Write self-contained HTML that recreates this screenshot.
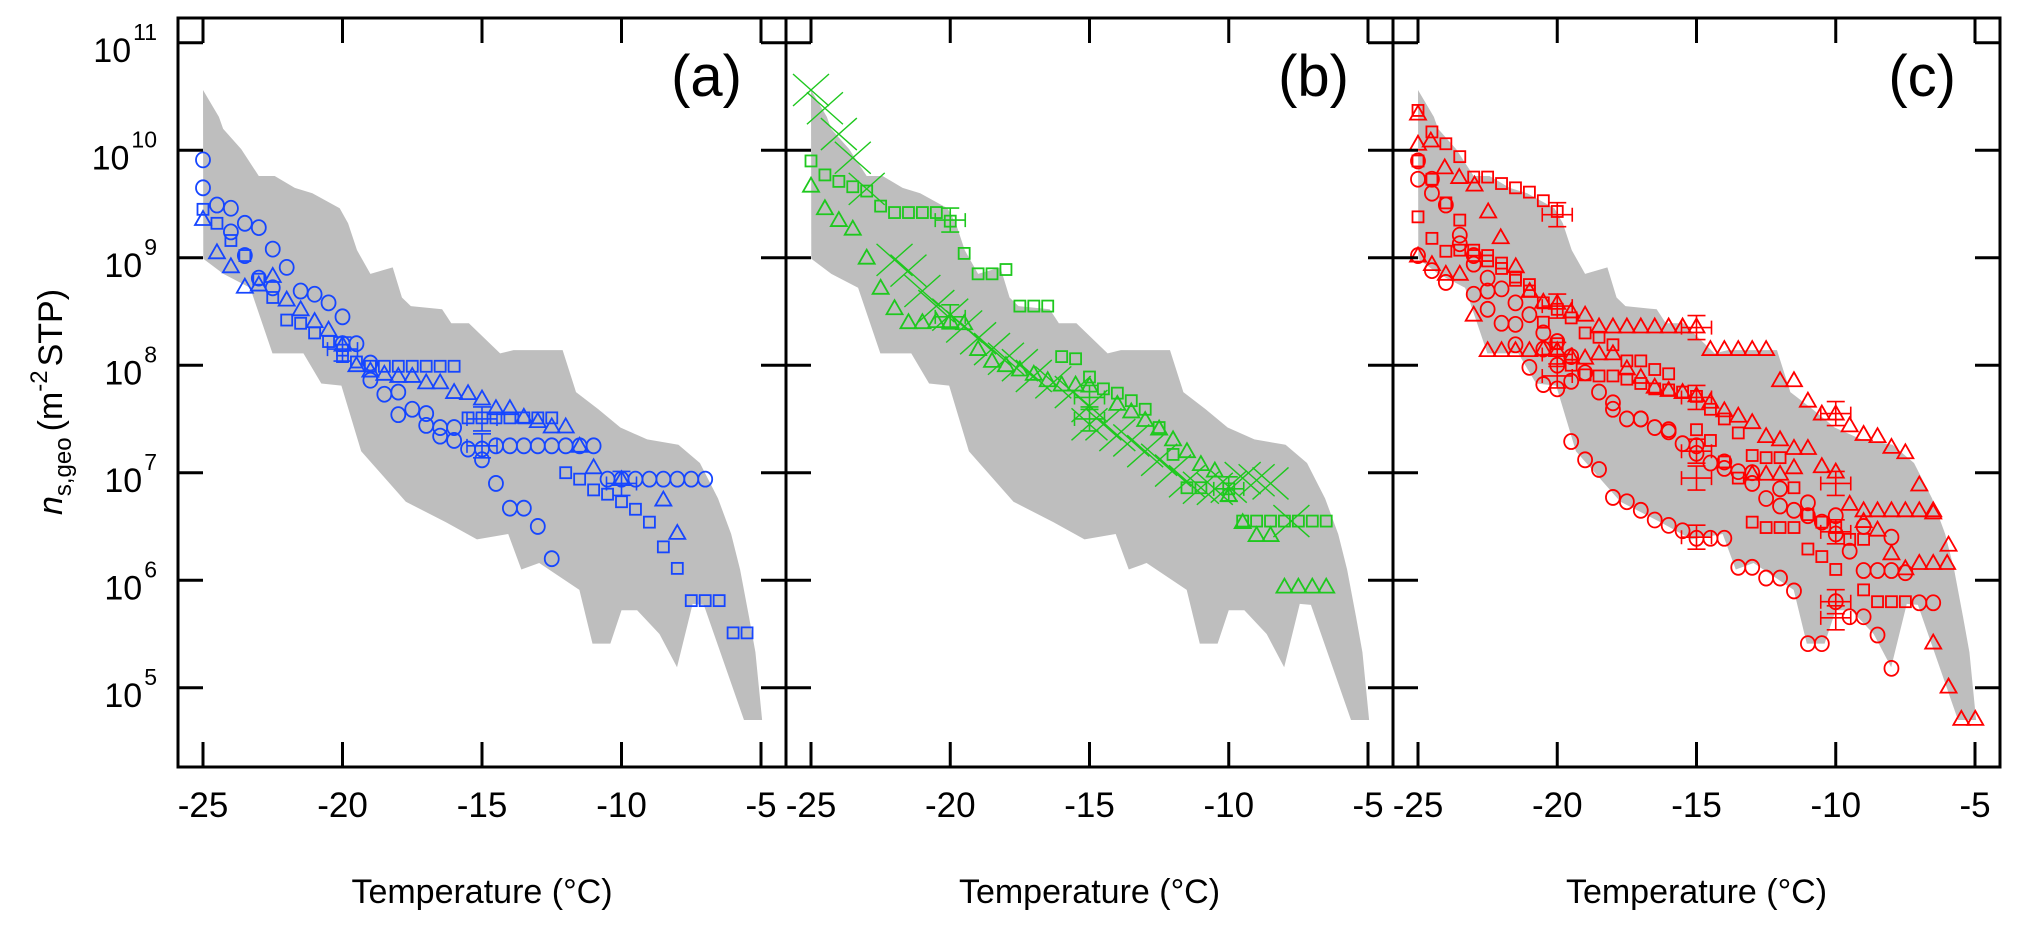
<!DOCTYPE html>
<html><head><meta charset="utf-8"><style>
html,body{margin:0;padding:0;background:#fff;}
svg{display:block;font-family:"Liberation Sans",Arial,sans-serif;}
</style></head><body>
<svg id="chart" width="2018" height="928" viewBox="0 0 2018 928" xmlns="http://www.w3.org/2000/svg"></svg>
<script>
// ---------- data ----------
const xTicks = [-25, -20, -15, -10, -5];
const xTickLabels = ["-25", "-20", "-15", "-10", "-5"];
const yTickExps = [5, 6, 7, 8, 9, 10, 11];
const panelLabels = ["(a)", "(b)", "(c)"];
// gray band [T, log10 n]
const bandUpper = [[-25,10.56],[-24.43,10.31],[-24.28,10.2],[-23.63,10.01],[-23,9.76],[-22.43,9.76],[-21.71,9.65],[-21.08,9.6],[-20.1,9.46],[-19.8,9.32],[-19.48,9.07],[-19,8.85],[-18.2,8.91],[-17.87,8.63],[-17.55,8.55],[-16.43,8.52],[-16.1,8.39],[-15.47,8.39],[-14.35,8.11],[-13.87,8.14],[-12.11,8.14],[-11.63,7.75],[-10.83,7.59],[-10.04,7.42],[-9.08,7.31],[-7.96,7.26],[-7.19,7.09],[-6.54,6.76],[-6.07,6.43],[-5.75,6.1],[-5.43,5.66],[-5.2,5.33],[-4.96,4.7]];
const bandLower = [[-24.99,8.99],[-24.27,8.85],[-23.31,8.72],[-22.51,8.11],[-21.4,8.11],[-20.76,7.83],[-20.04,7.81],[-19.33,7.2],[-17.73,6.73],[-16.3,6.54],[-15.18,6.38],[-14.06,6.43],[-13.59,6.1],[-12.95,6.16],[-11.51,5.91],[-11.04,5.41],[-10.4,5.41],[-10,5.72],[-9.44,5.72],[-8.64,5.5],[-8.01,5.19],[-7.45,5.78],[-7.05,5.77],[-5.61,4.7]];
// panel (a) blue
const aCircles = [[-25,9.91],[-25,9.65],[-24.5,9.49],[-24,9.46],[-24,9.24],[-23.5,9.32],[-23,9.28],[-23.5,9.02],[-23,8.81],[-22.5,9.08],[-22,8.91],[-22.5,8.72],[-21.5,8.69],[-21,8.66],[-20.5,8.58],[-20,8.45],[-20,8.2],[-19.5,8.2],[-19,8.02],[-19,7.86],[-18.5,7.73],[-18,7.75],[-18,7.54],[-17.5,7.59],[-17,7.55],[-17,7.44],[-16.5,7.42],[-16,7.42],[-16.5,7.34],[-16,7.3],[-15.5,7.22],[-15,7.22],[-15,7.12],[-14.5,7.25],[-14,7.25],[-13.5,7.25],[-13,7.25],[-12.5,7.25],[-12,7.25],[-11.5,7.25],[-11,7.25],[-14.5,6.9],[-14,6.67],[-13.5,6.67],[-13,6.5],[-12.5,6.2],[-10.5,6.94],[-10,6.94],[-9.5,6.94],[-9,6.94],[-8.5,6.94],[-8,6.94],[-7.5,6.94],[-7,6.94]];
const aSquares = [[-25,9.45],[-24.5,9.32],[-24,9.16],[-23.5,9.02],[-23,8.8],[-22.5,8.63],[-22,8.42],[-21.5,8.39],[-21,8.3],[-20.5,8.22],[-20,8.14],[-20,8.08],[-19.5,8.03],[-19,7.99],[-18.5,7.99],[-18,7.99],[-17.5,7.99],[-17,7.99],[-16.5,7.99],[-16,7.99],[-15.5,7.51],[-15,7.51],[-14.5,7.51],[-14,7.51],[-13.5,7.51],[-13,7.51],[-12.5,7.51],[-12,7.0],[-11.5,6.94],[-11,6.84],[-10.5,6.8],[-10,6.73],[-9.5,6.66],[-9,6.54],[-8.5,6.31],[-8,6.11],[-7.5,5.81],[-7,5.81],[-6.5,5.81],[-6,5.51],[-5.5,5.51]];
const aTriangles = [[-25,9.36],[-24.5,9.05],[-24,8.92],[-23.5,8.73],[-23,8.75],[-22.5,8.83],[-22,8.61],[-21.5,8.52],[-21,8.41],[-20.5,8.33],[-20,8.19],[-19.5,8.0],[-19,7.95],[-18.5,7.92],[-18,7.9],[-17.5,7.9],[-17,7.84],[-16.5,7.84],[-16,7.75],[-15.5,7.74],[-15,7.69],[-14.5,7.6],[-14,7.6],[-13.5,7.52],[-13,7.48],[-12.5,7.43],[-12,7.43],[-11.5,7.25],[-11,7.05],[-10,6.94],[-8.5,6.75],[-8,6.44]];
const aErrors = [[-20,8.15],[-15,7.5],[-15,7.25],[-10,6.9]];
// panel (b) green
const bCrosses = [[-25,10.56],[-24.5,10.39],[-24,10.15],[-23.5,9.93],[-23,9.64],[-22,8.98],[-21.5,8.88],[-21,8.69],[-20.5,8.55],[-20,8.47],[-19.5,8.36],[-19,8.25],[-18.5,8.15],[-18,8.06],[-17.5,8.0],[-17,7.9],[-16.3,7.84],[-15.6,7.75],[-15,7.62],[-15,7.45],[-14.5,7.45],[-14,7.35],[-13.5,7.3],[-13,7.2],[-12.5,7.12],[-12,7.02],[-11.5,6.92],[-11,6.86],[-10.5,6.85],[-10,6.87],[-9.5,6.95],[-9,6.93],[-8.5,6.9],[-7.75,6.55]];
const bSquares = [[-25,9.9],[-24.5,9.77],[-24,9.71],[-23.5,9.66],[-23,9.62],[-22.5,9.48],[-22,9.42],[-21.5,9.42],[-21,9.42],[-20.5,9.42],[-20,9.34],[-19.5,9.04],[-19,8.85],[-18.5,8.85],[-18,8.89],[-17.5,8.55],[-17,8.55],[-16.5,8.55],[-16,8.08],[-15.5,8.06],[-15,7.89],[-14.5,7.78],[-14,7.74],[-13.5,7.67],[-13,7.59],[-12.5,7.42],[-12,7.17],[-11.5,6.86],[-11,6.86],[-10,6.85],[-9.5,6.55],[-9,6.55],[-8.5,6.55],[-8,6.55],[-7.5,6.55],[-7,6.55],[-6.5,6.55]];
const bTriangles = [[-25,9.67],[-24.5,9.46],[-24,9.35],[-23.5,9.27],[-23,9.0],[-22.5,8.72],[-22,8.53],[-21.5,8.4],[-21,8.4],[-20.5,8.41],[-20,8.41],[-19.5,8.39],[-19,8.15],[-18.5,8.04],[-18,8.0],[-17.5,7.96],[-17,7.92],[-16.5,7.86],[-16,7.82],[-15.5,7.82],[-15,7.81],[-14,7.64],[-13.5,7.57],[-13,7.49],[-12.5,7.41],[-12,7.31],[-11.5,7.2],[-11,7.08],[-10.5,7.02],[-10,6.79],[-9.5,6.54],[-9,6.42],[-8.5,6.42],[-8,5.94],[-7.5,5.94],[-7,5.94],[-6.5,5.94]];
const bErrors = [[-20,9.35],[-20,8.45],[-15,7.7],[-15,7.5],[-10,6.85]];
// panel (c) red
const cCircles = [[-25,9.73],[-24.5,9.6],[-24,9.49],[-23.5,9.21],[-23,9.02],[-22.5,8.81],[-22,8.71],[-21.5,8.58],[-21,8.47],[-20.5,8.3],[-20,8.22],[-19.5,8.08],[-19,7.93],[-18.5,7.75],[-18,7.59],[-17.5,7.5],[-17,7.5],[-16.5,7.42],[-16,7.38],[-15.5,7.27],[-15,7.18],[-14.5,7.09],[-14,7.04],[-13.5,7.01],[-13,6.9],[-12.5,6.76],[-12,6.69],[-11.5,6.65],[-11,6.6],[-10.5,6.54],[-10,6.43],[-9.5,6.27],[-9,6.09],[-8.5,6.09],[-8,6.09],[-7.5,6.07],[-7,5.79],[-6.5,5.79],
[-25,9.02],[-24.5,8.88],[-24,8.77],[-23,8.66],[-22.5,8.52],[-22,8.39],[-21.5,8.19],[-21,7.98],[-20.5,7.82],[-20,7.78],[-19.5,7.29],[-19,7.12],[-18.5,7.03],[-18,6.77],[-17.5,6.73],[-17,6.65],[-16.5,6.56],[-16,6.51],[-15.5,6.46],[-15,6.39],[-14.5,6.39],[-14,6.39],[-13.5,6.12],[-13,6.12],[-12.5,6.02],[-12,6.02],[-11.5,5.9],[-11,5.41],[-10.5,5.41],[-10,5.8],[-9.5,5.66],[-9,5.66],[-8.5,5.49],[-8,5.18],
[-25,9.9],[-24.5,9.73],[-23.5,9.13],[-23,8.94],[-22.5,8.69],[-21.5,8.38],[-20.5,8.15],[-20,8.0],[-19.5,7.85],[-18,7.65],[-17,7.5],[-16,7.4],[-15,7.25],[-14,7.1],[-13,7.0],[-12,6.85],[-11,6.72],[-10,6.6],[-9,6.5],[-8,6.4]];
const cSquares = [[-25,10.37],[-24.5,10.17],[-24,10.06],[-23.5,9.94],[-23,9.75],[-22.5,9.75],[-22,9.69],[-21.5,9.65],[-21,9.61],[-20.5,9.53],[-20,9.43],
[-25,9.9],[-24.5,9.73],[-24,9.51],[-23.5,9.35],[-23,9.07],[-22.5,9.02],[-22,8.95],[-21.5,8.79],[-21,8.69],[-20.5,8.58],[-20,8.52],[-19.5,8.44],[-19,8.3],[-18.5,8.26],[-18,8.19],[-17.5,8.04],[-17,8.04],[-16.5,7.96],[-16,7.92],[-15.5,7.75],[-15,7.71],[-14.5,7.59],[-14,7.5],[-13.5,7.37],[-13,7.16],[-12.5,7.14],[-12,7.14],[-11.5,6.86],[-11,6.61],[-10.5,6.54],[-10,6.49],[-9.5,6.38],[-9,6.38],
[-25,9.38],[-24.5,9.18],[-24,9.06],[-23.5,9.07],[-23,9.02],[-22.5,8.97],[-22,8.9],[-21.5,8.82],[-21,8.75],[-20.5,8.4],[-20,8.2],[-19.5,8.0],[-19,7.91],[-18.5,7.9],[-18,7.9],[-17.5,7.87],[-17,7.83],[-16.5,7.78],[-16,7.77],[-15,7.4],[-14.5,7.3],[-14,7.1],[-13.5,6.95],[-13,6.54],[-12.5,6.49],[-12,6.49],[-11.5,6.49],[-11,6.29],[-10.5,6.22],[-10,6.1],[-9,5.91],[-8.5,5.8],[-8,5.8],[-7.5,5.8]];
const cTriangles = [[-25,10.34],[-25,10.06],[-24.54,10.09],[-24.04,9.84],[-23.52,9.75],[-22.97,9.68],[-22.48,9.43],[-22.03,9.19],[-21.49,8.92],[-20.99,8.69],[-20.5,8.59],[-20,8.58],[-19.5,8.5],[-19,8.47],[-18.5,8.36],[-18,8.36],[-17.5,8.36],[-17,8.36],[-16.5,8.36],[-16,8.36],[-15.5,8.36],[-15,8.36],[-14.5,8.15],[-14,8.15],[-13.5,8.15],[-13,8.15],[-12.5,8.15],[-12,7.86],[-11.5,7.86],[-11,7.67],[-10.5,7.55],[-10,7.55],[-9.5,7.44],[-9,7.36],[-8.5,7.34],[-8,7.24],[-7.5,7.19],[-7,6.89],[-6.5,6.65],[-5.95,6.33],[-6.5,5.42],[-5.95,5.01],[-5.49,4.71],[-4.99,4.71],
[-25,9.02],[-24.5,8.94],[-24,8.85],[-23.5,8.85],[-23,8.47],[-22.5,8.14],[-22,8.14],[-21.5,8.14],[-21,8.14],[-20.5,8.15],
[-20,8.14],[-19.5,8.08],[-19,8.07],[-18.5,8.11],[-18,8.11],[-17.5,7.97],[-17,7.89],[-16.5,7.8],[-16,7.77],[-15.5,7.75],[-15,7.72],[-14.5,7.66],[-14,7.58],[-13.5,7.53],[-13,7.47],[-12.5,7.34],[-12,7.31],[-11.5,7.23],[-11,7.23],[-10.5,7.06],[-10,7.01],[-9.5,6.71],[-9,6.65],[-8.5,6.65],[-8,6.65],[-7.5,6.65],[-7,6.65],[-6.5,6.63],
[-13,6.99],[-12.5,6.99],[-12,6.99],[-11.5,7.05],[-9,6.55],[-8.5,6.47],[-8,6.25],[-7.5,6.11],[-7,6.16],[-6.5,6.16],[-6,6.16]];
const cErrors = [[-20,9.4],[-20,8.55],[-20,8.1],[-20,7.9],[-15,8.35],[-15,7.7],[-15,7.2],[-15,6.95],[-15,6.4],[-10,7.55],[-10,6.9],[-10,6.45],[-10,5.8],[-10,5.65]];

// ---------- layout ----------
const NS = "http://www.w3.org/2000/svg";
const svg = document.getElementById("chart");
const TOP = 18, BOTTOM = 767;
const panels = [
  {left:178, right:786, color:"#1646ff", name:"a", circles:aCircles, squares:aSquares, triangles:aTriangles, crosses:[], errors:aErrors},
  {left:786, right:1393, color:"#1ec81e", name:"b", circles:[], squares:bSquares, triangles:bTriangles, crosses:bCrosses, errors:bErrors},
  {left:1393, right:2000, color:"#ff0000", name:"c", circles:cCircles, squares:cSquares, triangles:cTriangles, crosses:[], errors:cErrors}
];
function yScale(e){ return 42.7 + (11 - e) * 107.5; }
function makeX(p){ const x0 = p.left + 25, x1 = p.right - 25; return T => x0 + (T + 25) / 20 * (x1 - x0); }
function el(tag, attrs, parent){ const e = document.createElementNS(NS, tag); for (const k in attrs) e.setAttribute(k, attrs[k]); (parent || svg).appendChild(e); return e; }

panels.forEach((p, pi) => {
  const xs = makeX(p);
  const g = el("g", {});
  
  
  // band
  const pts = bandUpper.map(d => xs(d[0]) + "," + yScale(d[1])).concat(bandLower.slice().reverse().map(d => xs(d[0]) + "," + yScale(d[1])));
  const band = el("polygon", {points: pts.join(" "), fill: "#bebebe", stroke: "none"}, g);
  
  
  const sw = 1.8;
  p.squares.forEach(d => {
    const s = el("rect", {x: xs(d[0]) - 5.5, y: yScale(d[1]) - 5.5, width: 11, height: 11, fill: "none", stroke: p.color, "stroke-width": sw}, g);
    
    
  });
  p.circles.forEach(d => {
    const c = el("ellipse", {cx: xs(d[0]), cy: yScale(d[1]), rx: 7, ry: 7.5, fill: "none", stroke: p.color, "stroke-width": sw}, g);
    
    
  });
  p.triangles.forEach(d => {
    const x = xs(d[0]), y = yScale(d[1]);
    const t = el("polygon", {points: (x - 8) + "," + (y + 6) + " " + (x + 8) + "," + (y + 6) + " " + x + "," + (y - 8), fill: "none", stroke: p.color, "stroke-width": sw}, g);
    
    
  });
  p.crosses.forEach(d => {
    const x = xs(d[0]), y = yScale(d[1]);
    const c = el("path", {d: "M" + (x - 18) + " " + (y - 16) + "L" + (x + 18) + " " + (y + 16) + "M" + (x - 18) + " " + (y + 16) + "L" + (x + 18) + " " + (y - 16), fill: "none", stroke: p.color, "stroke-width": 1.4}, g);
    
    
  });
  p.errors.forEach(d => {
    const x = xs(d[0]), y = yScale(d[1]);
    const e = el("path", {d: "M" + (x - 15) + " " + y + "H" + (x + 15) + "M" + x + " " + (y - 12) + "V" + (y + 12) + "M" + (x - 9) + " " + (y - 12) + "H" + (x + 9) + "M" + (x - 9) + " " + (y + 12) + "H" + (x + 9) + "M" + (x - 15) + " " + (y - 7) + "V" + (y + 7) + "M" + (x + 15) + " " + (y - 7) + "V" + (y + 7), fill: "none", stroke: p.color, "stroke-width": 1.6}, g);
    
    
  });
  // frame
  const fr = el("rect", {x: p.left, y: TOP, width: p.right - p.left, height: BOTTOM - TOP, fill: "none", stroke: "#000", "stroke-width": 3}, g);
  
  
  // x ticks
  xTicks.forEach((t, i) => {
    const x = xs(t);
    const tk = el("path", {d: "M" + x + " " + BOTTOM + "V" + (BOTTOM - 25) + "M" + x + " " + TOP + "V" + (TOP + 25), stroke: "#000", "stroke-width": 3}, g);
    
    
    const lb = el("text", {x: x, y: 817, "text-anchor": "middle", "font-size": 35}, g);
    lb.textContent = xTickLabels[i];
    
    
  });
  // y ticks
  yTickExps.forEach(ex => {
    const y = yScale(ex);
    const tk = el("path", {d: "M" + p.left + " " + y + "H" + (p.left + 25) + "M" + p.right + " " + y + "H" + (p.right - 25), stroke: "#000", "stroke-width": 3}, g);
    
    
    if (pi === 0) {
      const lb = el("text", {x: 157, y: y + 19.5, "text-anchor": "end", "font-size": 34}, g);
      
      
      const base = el("tspan", {}, lb); base.textContent = "10";
      const sup = el("tspan", {dx: 2, dy: -22, "font-size": 23}, lb); sup.textContent = String(ex);
    }
  });
  // panel label
  const pl = el("text", {x: p.right - 44, y: 96, "text-anchor": "end", "font-size": 58}, g);
  pl.textContent = panelLabels[pi];
  
  
  // x title
  const xt = el("text", {x: (p.left + p.right) / 2, y: 903, "text-anchor": "middle", "font-size": 34}, g);
  xt.textContent = "Temperature (°C)";
  
  
});
// y title
const yt = el("text", {x: 0, y: 0, "text-anchor": "middle", "font-size": 34, transform: "translate(62,402) rotate(-90)"});


const t1 = el("tspan", {"font-style": "italic"}, yt); t1.textContent = "n";
const t2 = el("tspan", {dy: 9, "font-size": 24}, yt); t2.textContent = "s,geo";
const t3 = el("tspan", {dy: -9, dx: 6}, yt); t3.textContent = "(m";
const t4 = el("tspan", {dy: -15, "font-size": 24}, yt); t4.textContent = "-2";
const t5 = el("tspan", {dy: 15, dx: 4}, yt); t5.textContent = "STP)";
</script>
</body></html>
